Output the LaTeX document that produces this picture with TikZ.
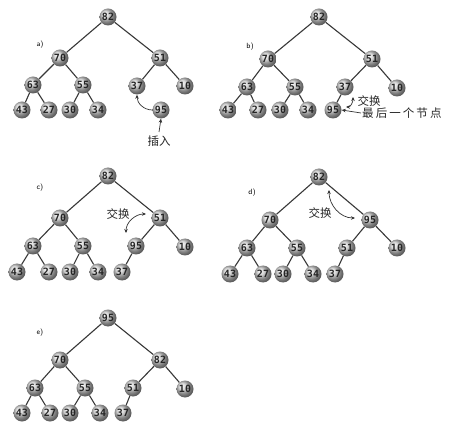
\documentclass[tikz,border=0pt]{standalone}
\usepackage{fontspec}
\newfontfamily\cjk{Noto Sans CJK SC}
\newfontfamily\numfont{DejaVu Sans Mono}
\usetikzlibrary{arrows.meta}
\begin{document}
\begin{tikzpicture}[x=1pt,y=-1pt,
  nd/.style={circle, minimum size=17pt, inner sep=0pt, shading=ball, ball color=gray!38, font=\numfont\bfseries\fontsize{10}{10}\selectfont, text=black!85},
  ed/.style={draw=black!78, line width=1.1pt},
  lab/.style={font=\sffamily\fontsize{7.5}{8}\selectfont},
  cn/.style={font=\cjk\fontsize{11.5}{12}\selectfont, text=black!85},
  ar/.style={-{Stealth[length=4pt,width=3.5pt]}, line width=0.7pt, black!80},
  dar/.style={{Stealth[length=4pt,width=3.5pt]}-{Stealth[length=4pt,width=3.5pt]}, line width=0.7pt, black!80}
]
\useasboundingbox[fill=white] (0,0) rectangle (449,435);

% ---------- a) ----------
\node[lab] (la) at (40,45) {a)};
\node[nd] (a82) at (108,17) {82};
\node[nd] (a70) at (60,58) {70};
\node[nd] (a51) at (160,58) {51};
\node[nd] (a63) at (33,85) {63};
\node[nd] (a55) at (83,85) {55};
\node[nd] (a37) at (137,86) {37};
\node[nd] (a10) at (185,86) {10};
\node[nd] (a43) at (22,110) {43};
\node[nd] (a27) at (49,110) {27};
\node[nd] (a30) at (70,110) {30};
\node[nd] (a34) at (98,110) {34};
\node[nd] (a95) at (161,110) {95};
\foreach \p/\c in {82/70,82/51,70/63,70/55,51/37,51/10,63/43,63/27,55/30,55/34}
  \draw[ed] (a\p) -- (a\c);
\node[cn] (ins) at (159,141) {插入};
\coordinate (insT) at (159,132);
\draw[ar] (insT) -- (a95.south);
\draw[ar] (a95.west) to[out=180,in=-90] (a37.south);

% ---------- b) ----------
\node[lab] (lb) at (250,47) {b)};
\node[nd] (b82) at (319,17) {82};
\node[nd] (b70) at (268,59) {70};
\node[nd] (b51) at (372,59) {51};
\node[nd] (b63) at (247,87) {63};
\node[nd] (b55) at (295,87) {55};
\node[nd] (b37) at (345,87) {37};
\node[nd] (b10) at (397,88) {10};
\node[nd] (b43) at (228,110) {43};
\node[nd] (b27) at (258,110) {27};
\node[nd] (b30) at (280,110) {30};
\node[nd] (b34) at (308,110) {34};
\node[nd] (b95) at (333,110) {95};
\foreach \p/\c in {82/70,82/51,70/63,70/55,51/37,51/10,63/43,63/27,55/30,55/34,37/95}
  \draw[ed] (b\p) -- (b\c);
\node[cn] (bx) at (369,101) {交换};
\coordinate (bsA) at (346,107);
\coordinate (bsB) at (353,97);
\draw[dar] (bsA) to[out=0,in=-90] (bsB);
\node[cn, anchor=west, inner sep=1pt, font=\cjk\fontsize{11.5}{12}\selectfont\addfontfeature{LetterSpace=18}] (last) at (361,113) {最后一个节点};
\draw[ar] (last.west) -- (b95.east);

% ---------- c) ----------
\node[lab] (lc) at (40,188) {c)};
\node[nd] (c82) at (108,176) {82};
\node[nd] (c70) at (60,218) {70};
\node[nd] (c51) at (160,218) {51};
\node[nd] (c63) at (33,246) {63};
\node[nd] (c55) at (83,246) {55};
\node[nd] (c95) at (136,246) {95};
\node[nd] (c10) at (185,247) {10};
\node[nd] (c43) at (17,272) {43};
\node[nd] (c27) at (49,272) {27};
\node[nd] (c30) at (70,272) {30};
\node[nd] (c34) at (98,272) {34};
\node[nd] (c37) at (122,272) {37};
\foreach \p/\c in {82/70,82/51,70/63,70/55,51/95,51/10,63/43,63/27,55/30,55/34,95/37}
  \draw[ed] (c\p) -- (c\c);
\node[cn] (cx) at (118,214) {交换};
\coordinate (csA) at (126,233);
\coordinate (csB) at (146,214);
\draw[dar] (csA) to[out=90,in=180] (csB);

% ---------- d) ----------
\node[lab] (ld) at (252,193) {d)};
\node[nd] (d82) at (319,177) {82};
\node[nd] (d70) at (270,220) {70};
\node[nd] (d95) at (370,220) {95};
\node[nd] (d63) at (247,248) {63};
\node[nd] (d55) at (297,248) {55};
\node[nd] (d51) at (347,248) {51};
\node[nd] (d10) at (397,248) {10};
\node[nd] (d43) at (230,274) {43};
\node[nd] (d27) at (263,274) {27};
\node[nd] (d30) at (283,274) {30};
\node[nd] (d34) at (313,274) {34};
\node[nd] (d37) at (335,274) {37};
\foreach \p/\c in {82/70,82/95,70/63,70/55,95/51,95/10,63/43,63/27,55/30,55/34,51/37}
  \draw[ed] (d\p) -- (d\c);
\node[cn] (dx) at (320,213) {交换};
\coordinate (dsA) at (329,190);
\coordinate (dsB) at (355,218);
\draw[dar] (dsA) to[out=-90,in=180] (dsB);

% ---------- e) ----------
\node[lab] (le) at (40,333) {e)};
\node[nd] (e95) at (108,318) {95};
\node[nd] (e70) at (60,360) {70};
\node[nd] (e82) at (160,360) {82};
\node[nd] (e63) at (35,388) {63};
\node[nd] (e55) at (85,388) {55};
\node[nd] (e51) at (133,388) {51};
\node[nd] (e10) at (185,389) {10};
\node[nd] (e43) at (22,413) {43};
\node[nd] (e27) at (50,413) {27};
\node[nd] (e30) at (70,413) {30};
\node[nd] (e34) at (100,413) {34};
\node[nd] (e37) at (123,413) {37};
\foreach \p/\c in {95/70,95/82,70/63,70/55,82/51,82/10,63/43,63/27,55/30,55/34,51/37}
  \draw[ed] (e\p) -- (e\c);
\end{tikzpicture}
\end{document}
